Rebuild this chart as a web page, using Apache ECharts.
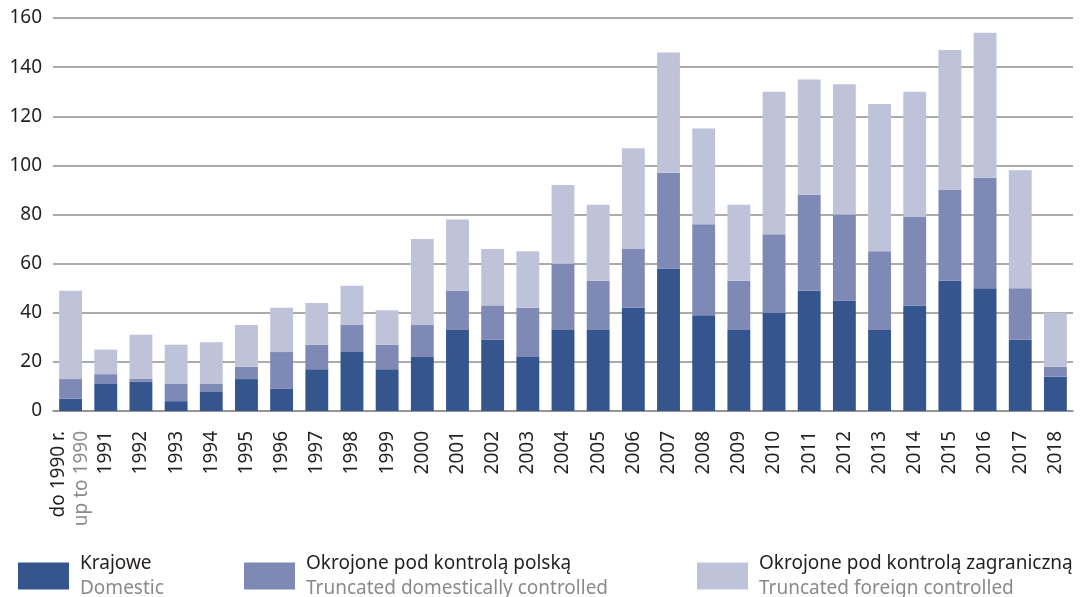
<!DOCTYPE html>
<html>
<head>
<meta charset="utf-8">
<script src="https://cdn.jsdelivr.net/npm/echarts@6/dist/echarts.min.js"></script>
<style>
  html, body { margin: 0; padding: 0; background: #fff; }
  #chart { width: 1082px; height: 597px; }
</style>
</head>
<body>
<div id="chart"></div>
<script>
// lata (kategorie osi X)
const years = ['do 1990 r.', '1991', '1992', '1993', '1994', '1995', '1996', '1997', '1998', '1999',
  '2000', '2001', '2002', '2003', '2004', '2005', '2006', '2007', '2008', '2009',
  '2010', '2011', '2012', '2013', '2014', '2015', '2016', '2017', '2018']

// Krajowe / Domestic
const domestic = [5, 11, 12, 4, 8, 13, 9, 17, 24, 17,
  22, 33, 29, 22, 33, 33, 42, 58, 39, 33,
  40, 49, 45, 33, 43, 53, 50, 29, 14]
// Okrojone pod kontrolą polską / Truncated domestically controlled
const polishControlled = [8, 4, 1, 7, 3, 5, 15, 10, 11, 10,
  13, 16, 14, 20, 27, 20, 24, 39, 37, 20,
  32, 39, 35, 32, 36, 37, 45, 21, 4]
// Okrojone pod kontrolą zagraniczną / Truncated foreign controlled
const foreignControlled = [36, 10, 18, 16, 17, 17, 18, 17, 16, 14,
  35, 29, 23, 23, 32, 31, 41, 49, 39, 31,
  58, 47, 53, 60, 51, 57, 59, 48, 22]

const seriesNames = [
  ['Krajowe', 'Domestic'],
  ['Okrojone pod kontrolą polską', 'Truncated domestically controlled'],
  ['Okrojone pod kontrolą zagraniczną', 'Truncated foreign controlled']
]
const colors = ['#34558e', '#7e89b5', '#bec3da']

const FONT = 'Noto Sans'
const chartInstance = echarts.init(document.getElementById('chart'))

// jedna legenda na serię, żeby ustawić je jak w oryginale
const legendLeft = [13, 239, 692]
const legends = seriesNames.map((n, i) => ({
  data: [n[0]],
  left: legendLeft[i],
  top: 549,
  itemWidth: 51,
  itemHeight: 27,
  itemGap: 0,
  selectedMode: false,
  icon: 'rect',
  formatter: () => '{a|' + n[0] + '}\n{b|' + n[1] + '}',
  textStyle: {
    padding: [0, 0, 0, 6],
    rich: {
      a: { fontFamily: FONT, fontSize: 19, color: '#231f20', lineHeight: 25 },
      b: { fontFamily: FONT, fontSize: 19, color: '#8a8a8a', lineHeight: 25 }
    }
  }
}))

const makeSeries = (idx, data) => ({
  name: seriesNames[idx][0],
  type: 'bar',
  stack: 'total',
  data: data,
  barCategoryGap: '35%',
  itemStyle: { color: colors[idx] },
  emphasis: { disabled: true }
})

const option = {
  animation: false,
  color: colors,
  legend: legends,
  grid: {
    left: 53,
    right: 9,
    top: 18,
    bottom: 186,
    outerBoundsMode: 'none'
  },
  xAxis: {
    type: 'category',
    data: years,
    axisLine: { lineStyle: { color: '#8f8f8f', width: 1.5 } },
    axisTick: { show: false },
    axisLabel: {
      rotate: 90,
      margin: 20,
      interval: 0,
      fontFamily: FONT,
      fontSize: 19,
      color: '#231f20',
      formatter: val => {
        if (val === 'do 1990 r.') return '{a|do 1990 r.}\n{b|up to 1990}'
        return val
      },
      rich: {
        a: { fontFamily: FONT, fontSize: 19, color: '#231f20', lineHeight: 23 },
        b: { fontFamily: FONT, fontSize: 19, color: '#8a8a8a', lineHeight: 23 }
      }
    }
  },
  yAxis: {
    type: 'value',
    min: 0,
    max: 160,
    interval: 20,
    axisLine: { show: false },
    axisTick: { show: false },
    axisLabel: {
      margin: 11,
      fontFamily: FONT,
      fontSize: 19,
      color: '#231f20'
    },
    splitLine: { lineStyle: { color: '#8f8f8f', width: 1.5 } }
  },
  series: [
    makeSeries(0, domestic),
    makeSeries(1, polishControlled),
    makeSeries(2, foreignControlled)
  ]
}

option && chartInstance.setOption(option)
</script>
</body>
</html>
